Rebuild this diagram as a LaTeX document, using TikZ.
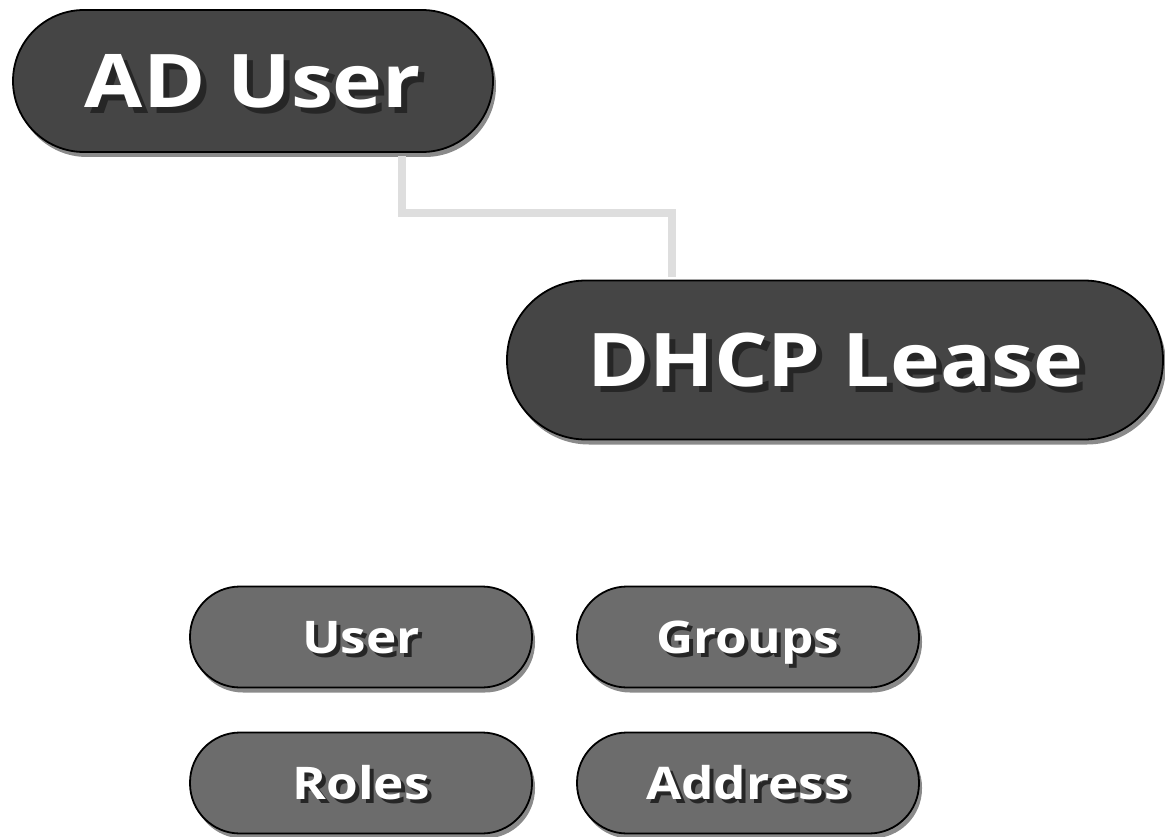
\documentclass[tikz,border=0pt]{standalone}
\usepackage{fontspec}
\newfontfamily\pillfont[FakeStretch=1.14]{Open Sans}
\usetikzlibrary{shadows}
\definecolor{bigfill}{HTML}{454545}
\definecolor{smallfill}{HTML}{6C6C6C}
\definecolor{connc}{HTML}{DEDEDE}
\definecolor{shadowc}{HTML}{8A8A8A}
\definecolor{txtshadow}{HTML}{262626}
\newcommand\shtxt[2]{\makebox[0pt][l]{\raisebox{-#2}{\hspace{#2}\textcolor{txtshadow}{#1}}}#1}
\tikzset{
  pill/.style={draw=black, line width=1.8pt, text=white, inner sep=0pt, text depth=0pt,
    drop shadow={shadow xshift=3pt, shadow yshift=-5pt, fill=shadowc, opacity=1}},
  bigpill/.style={pill, fill=bigfill, font=\pillfont\fontsize{74}{74}\selectfont\bfseries},
  smallpill/.style={pill, fill=smallfill, minimum width=342pt, minimum height=101pt,
    rounded corners=50pt, text height=32pt, font=\pillfont\fontsize{45}{45}\selectfont\bfseries},
  conn/.style={connc, line width=8pt}
}
\begin{document}
\begin{tikzpicture}[x=1pt,y=-1pt]
\useasboundingbox (0,0) rectangle (1165,837);
\coordinate (j1) at (402,213);
\coordinate (j2) at (672,213);
\node[bigpill, minimum width=480pt, minimum height=142pt, rounded corners=71pt] (ad) at (253,81) {\shtxt{AD User}{6pt}};
\node[bigpill, minimum width=656pt, minimum height=159pt, rounded corners=79pt] (dhcp) at (835,360) {\shtxt{DHCP Lease}{6pt}};
\draw[conn] ([yshift=-3pt]ad.south -| j1) -- (j1) -- (j2) -- ([yshift=3pt]dhcp.north -| j2);
\node[smallpill] (user) at (361,637) {\shtxt{User}{4pt}};
\node[smallpill] (groups) at (748,637) {\shtxt{Groups}{4pt}};
\node[smallpill] (roles) at (361,783) {\shtxt{Roles}{4pt}};
\node[smallpill] (address) at (748,783) {\shtxt{Address}{4pt}};
\end{tikzpicture}
\end{document}
